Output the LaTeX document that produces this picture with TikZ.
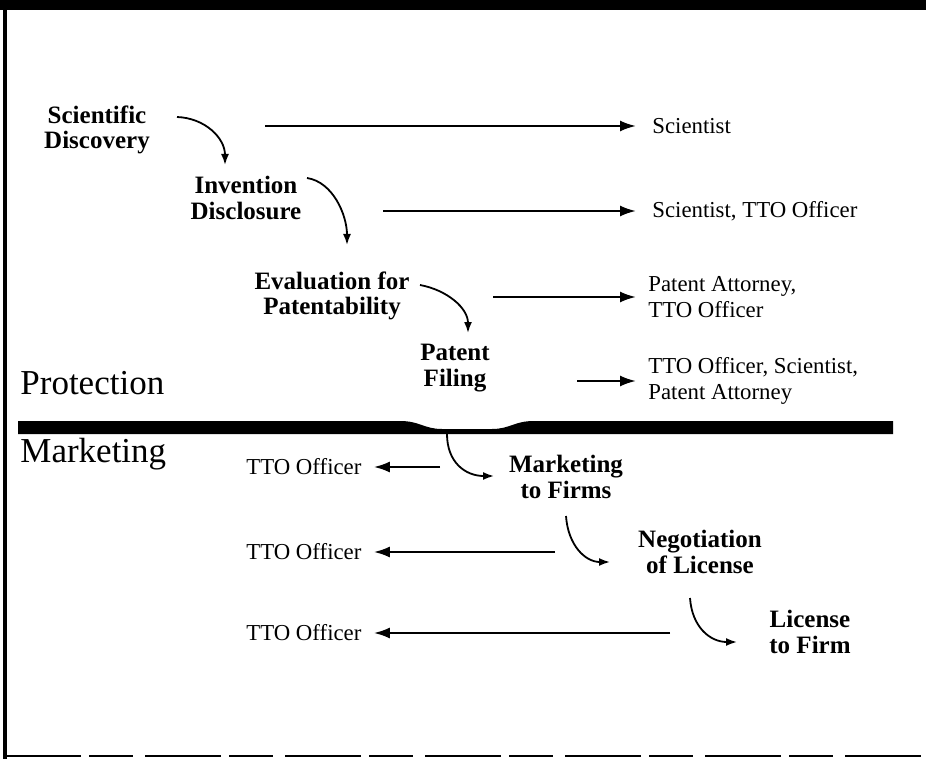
\documentclass[tikz,border=0pt]{standalone}
\usepackage{fontspec}
\setmainfont{Liberation Serif}
\usetikzlibrary{arrows.meta}
\tikzset{%
    stage/.style={align=center,font=\fontsize{12.5}{12.8}\selectfont\bfseries,inner sep=0pt},
    actor/.style={anchor=west,align=left,font=\fontsize{11.4}{12.8}\selectfont,inner sep=0pt},
    phase/.style={anchor=west,font=\fontsize{17.5}{19}\selectfont,inner sep=0pt},
    flow/.style={line width=1.1pt,-{Latex[length=8pt,width=5.5pt]}},
    step arc/.style={line width=0.9pt,-{Latex[length=5.5pt,width=4pt]}}
}

\begin{document}
\begin{tikzpicture}[x=0.5pt,y=-0.5pt]
        \useasboundingbox (0,0) rectangle (926,759);
        % frame
        \fill (0,0) rectangle (926,10);
        \draw[line width=2pt] (5,0) -- (5,759);
        \draw[line width=0.6pt,dash pattern=on 38pt off 4pt on 22pt off 6pt] (5,756) -- (926,756);

        % stages
        \node[stage] (sd) at (97,130){Scientific\\Discovery};
        \node[stage] (id) at (246,198){Invention\\Disclosure};
        \node[stage] (ep) at (332,296){Evaluation for\\Patentability};
        \node[stage] (pf) at (455,368){Patent\\Filing};
        \node[stage] (mf) at (566,477){Marketing\\to Firms};
        \node[stage] (nl) at (700,552){Negotiation\\of License};
        \node[stage] (lf) at (810,632){License\\to Firm};

        % people involved
        \node[actor] (r1) at (652,126){Scientist};
        \node[actor] (r2) at (652,211){Scientist, TTO Officer};
        \node[actor] (r3) at (648,297){Patent Attorney,\\TTO Officer};
        \node[actor] (r4) at (648,381){TTO Officer, Scientist,\\Patent Attorney};
        \node[actor] (l1) at (246,467){TTO Officer};
        \node[actor] (l2) at (246,552){TTO Officer};
        \node[actor] (l3) at (246,633){TTO Officer};

        % phases
        \node[phase] (prot) at (20,383){Protection};
        \node[phase] (mkt) at (20,454){Marketing};

        % dividing band
        \fill (18,421) -- (400,421) .. controls (420,421) and (424,429) .. (442,429)
            -- (492,429) .. controls (510,429) and (514,421) .. (534,421)
            -- (893,421) -- (893,434) -- (18,434) -- cycle;

        % arrows to the right
        \coordinate (s1) at (265,126);
        \coordinate (s2) at (383,211);
        \coordinate (s3) at (493,297);
        \coordinate (s4) at (577,381);
        \draw[flow] (s1) -- ([xshift=-8]r1.west);
        \draw[flow] (s2) -- ([xshift=-8]r2.west);
        \draw[flow] (s3) -- ([xshift=-6]r3.west);
        \draw[flow] (s4) -- ([xshift=-6]r4.west);

        % arrows to the left
        \coordinate (t1) at (440,467);
        \coordinate (t2) at (555,552);
        \coordinate (t3) at (670,633);
        \draw[flow] (t1) -- ([xshift=6]l1.east);
        \draw[flow] (t2) -- ([xshift=6]l2.east);
        \draw[flow] (t3) -- ([xshift=6]l3.east);

        % steps between stages
        \draw[step arc] (177,117) .. controls (205,118) and (225,138) .. (225,165);
        \draw[step arc] (307,178) .. controls (333,182) and (347,215) .. (347,245);
        \draw[step arc] (420,285) .. controls (447,290) and (468,308) .. (468,333);
        \draw[step arc] (447,434) .. controls (447,462) and (465,476) .. (494,476);
        \draw[step arc] (566,516) .. controls (568,545) and (585,562) .. (610,562);
        \draw[step arc] (690,598) .. controls (692,627) and (710,642) .. (737,642);
    \end{tikzpicture}
\end{document}
